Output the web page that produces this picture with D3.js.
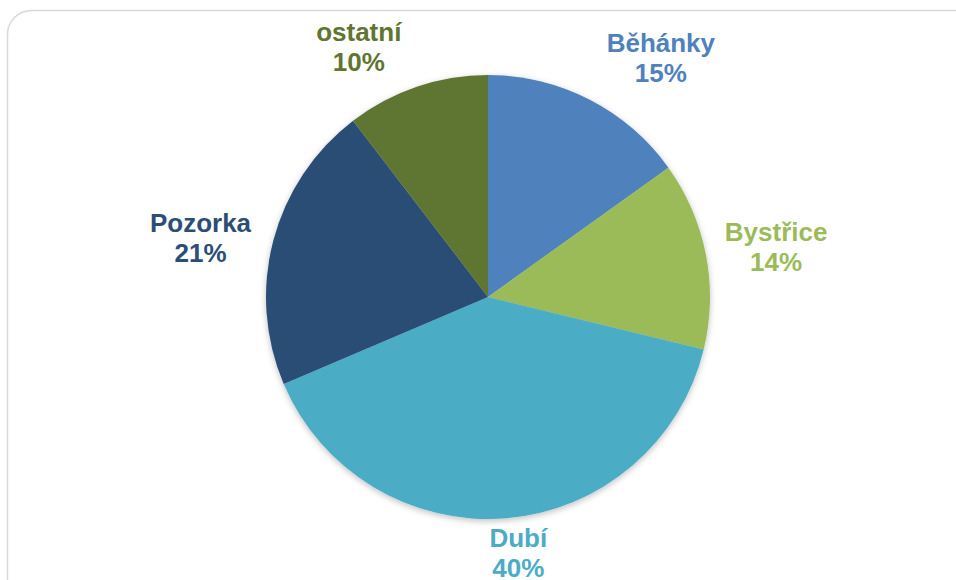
<!DOCTYPE html>
<html>
<head>
<meta charset="utf-8">
<script src="https://cdn.jsdelivr.net/npm/d3@7"></script>
<style>
  body { margin: 0; background: #fff; }
  svg { display: block; }
</style>
</head>
<body>
<svg width="956" height="580"></svg>
<script>
// slice data, clockwise from 12 o'clock
var names = ["Běhánky", "Bystřice", "Dubí", "Pozorka", "ostatní"];
var values = [15.1, 13.7, 39.8, 21.0, 10.4];
var colors = ["#4F81BD", "#9BBB59", "#4BACC6", "#2C4D75", "#5F7530"];
// hand nudges for the label boxes (excel puts them a bit off the formula)
var labelNudge = [[42, -6], [10, 0], [9, -5], [-14, 8], [-41, -2]];

var svg = d3.select("svg"),
    width = +svg.attr("width"),
    height = +svg.attr("height");

// chart frame
svg.append("rect")
    .attr("x", 7.5).attr("y", 10.5)
    .attr("width", 980).attr("height", 600)
    .attr("rx", 24).attr("ry", 24)
    .attr("fill", "#fff")
    .attr("stroke", "#d9d9d9")
    .attr("stroke-width", 1.5);

var defs = svg.append("defs");
var shadow = defs.append("filter").attr("id", "shadow")
    .attr("x", "-10%").attr("y", "-10%").attr("width", "120%").attr("height", "120%");
shadow.append("feDropShadow")
    .attr("dx", 0).attr("dy", 2).attr("stdDeviation", 3)
    .attr("flood-color", "#000").attr("flood-opacity", 0.25);

var cx = 488, cy = 297, r = 222;

var data = names.map(function(n, i) { return { name: n, value: values[i], color: colors[i], i: i }; });

var pie = d3.pie().sort(null).value(function(d) { return d.value; });
var arc = d3.arc().innerRadius(0).outerRadius(r);

var g = svg.append("g").attr("transform", "translate(" + cx + "," + cy + ")");

g.append("g").attr("filter", "url(#shadow)")
  .selectAll("path")
  .data(pie(data))
  .enter().append("path")
    .attr("d", arc)
    .attr("fill", function(d) { return d.data.color; });

var total = d3.sum(values);
var fontSize = 26, lineH = 30, gap = 10;

var labels = g.selectAll("text.lbl")
  .data(pie(data))
  .enter().append("text")
    .attr("class", "lbl")
    .attr("text-anchor", "middle")
    .style("font-family", "'Liberation Sans', Arial, sans-serif")
    .style("font-weight", "bold")
    .style("font-size", fontSize + "px")
    .attr("fill", function(d) { return d.data.color; });

labels.each(function(d) {
  var t = d3.select(this);
  t.append("tspan").attr("x", 0).attr("dy", 0).text(d.data.name);
  t.append("tspan").attr("x", 0).attr("dy", lineH)
    .text(Math.round(d.data.value / total * 100) + "%");
  var bb = this.getBBox();
  var a = (d.startAngle + d.endAngle) / 2;
  var s = Math.sin(a), c = -Math.cos(a);
  var ax = (r + gap) * s, ay = (r + gap) * c;
  var bx = ax + s * bb.width / 2 + labelNudge[d.data.i][0];
  var by = ay + c * bb.height / 2 + labelNudge[d.data.i][1];
  // center box on (bx, by)
  var ox = bx, oy = by - (bb.y + bb.height / 2);
  t.attr("transform", "translate(" + ox + "," + oy + ")");
});
</script>
</body>
</html>
